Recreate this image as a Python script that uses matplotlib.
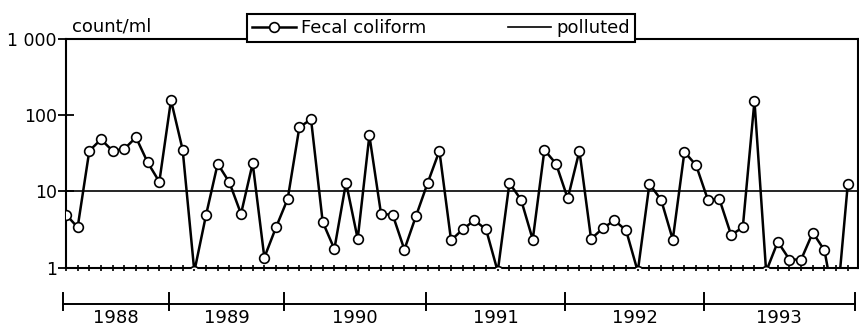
import numpy as np
import matplotlib
matplotlib.use("Agg")
import matplotlib.pyplot as plt
from matplotlib.ticker import FixedLocator, NullFormatter

# fecal coliform counts (count/ml), one value per sample
# values below 1 fall under the axis and only show as a dip in the line
coliform = [5.0, 3.4, 34, 48, 34, 36, 51, 24, 13.4, 156, 35, 0.9,
            4.9, 23, 13.2, 5.1, 23.4, 1.37, 3.4, 8.0, 69, 88, 4.0, 1.77,
            13.1, 2.4, 54, 5.1, 4.95, 1.74, 4.8, 13, 34, 2.3, 3.2, 4.2,
            3.2, 0.9, 12.9, 7.8, 2.35, 35, 23, 8.1, 34, 2.4, 3.3, 4.2,
            3.1, 0.9, 12.5, 7.8, 2.35, 33, 22, 7.85, 7.9, 2.7, 3.4, 153,
            0.9, 2.2, 1.29, 1.29, 2.9, 1.7, 0.25, 12.6]
polluted_level = 10

years = ["1988", "1989", "1990", "1991", "1992", "1993"]
# year boundaries, in sample index units
year_edges = [-0.26, 8.83, 18.68, 30.85, 42.76, 54.67, 67.61]

ytick_vals = [1, 10, 100, 1000]
ytick_labels = ["1", "10", "100", "1 000"]

x = np.arange(len(coliform))

fig = plt.figure(figsize=(8.59, 3.32), dpi=100)
ax = fig.add_axes([0.0768, 0.1928, 0.922, 0.6912])

ax.plot(x, coliform, color="black", lw=1.8, marker="o", ms=7,
        mfc="white", mec="black", mew=1.2, label="Fecal coliform", zorder=3)
ax.axhline(polluted_level, color="black", lw=1.2, label="polluted", zorder=2)

ax.set_yscale("log")
ax.set_ylim(1, 1000)
ax.set_xlim(0, 67.87)

ax.yaxis.set_major_locator(FixedLocator(ytick_vals))
ax.set_yticklabels(ytick_labels)
ax.yaxis.set_minor_formatter(NullFormatter())
ax.tick_params(axis="y", which="minor", length=0)
ax.tick_params(axis="y", which="major", direction="inout", length=11,
               width=1.3, labelsize=12.5, pad=1)

ax.set_xticks(x)
ax.set_xticklabels([])
ax.tick_params(axis="x", direction="inout", length=5, width=1.2)

for s in ax.spines.values():
    s.set_linewidth(1.5)

fig.text(0.084, 0.919, "count/ml", fontsize=13, ha="left", va="center")

handles, labels = ax.get_legend_handles_labels()
leg = fig.legend(handles, labels, loc="center left", ncol=2,
                 bbox_to_anchor=(0.2875, 0.8675, 0.51, 0.0964),
                 borderaxespad=0, fontsize=13, handlelength=2.4,
                 handletextpad=0.3, borderpad=0.3, columnspacing=4.5,
                 fancybox=False, framealpha=1, edgecolor="black")
leg.get_frame().set_linewidth(1.5)

# time line with years under the chart
tax = fig.add_axes([0.0768, 0.0, 0.922, 42 / 332])
tax.set_xlim(0, 67.87)
tax.set_ylim(0, 1)
tax.axis("off")
tax.plot([year_edges[0], year_edges[-1]], [0.667, 0.667], color="black",
         lw=1.4, clip_on=False)
for e in year_edges:
    tax.plot([e, e], [0.52, 0.93], color="black", lw=1.4, clip_on=False)
for i, yr in enumerate(years):
    mid = (year_edges[i] + year_edges[i + 1]) / 2
    tax.text(mid, 0.33, yr, fontsize=13, ha="center", va="center")

fig.savefig("out.png", dpi=100)
